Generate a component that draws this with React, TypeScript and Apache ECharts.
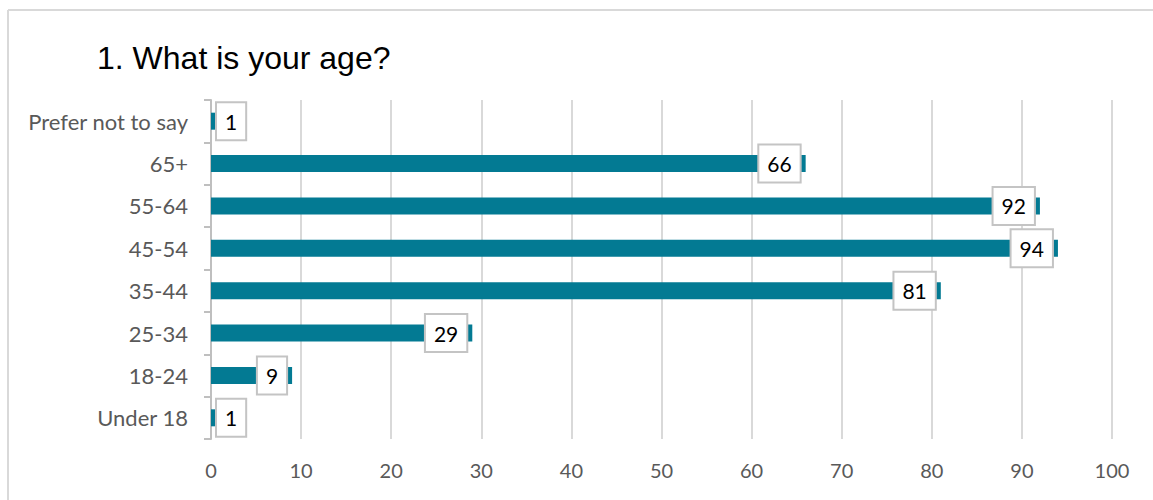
import React, { useEffect, useRef } from "react";
import * as echarts from "echarts";

const categories = ["Under 18", "18-24", "25-34", "35-44", "45-54", "55-64", "65+", "Prefer not to say"];
const values = [1, 9, 29, 81, 94, 92, 66, 1];
const titleText = "1. What is your age?";
const xMin = 0;
const xMax = 100;
const xInterval = 10;

export default function App() {
  const ref = useRef<HTMLDivElement>(null);
  useEffect(() => {
    if (!ref.current) return;
    const chart = echarts.init(ref.current, null, { renderer: "svg" });
    const labelFont = "Lato, 'Open Sans', sans-serif";
    chart.setOption({
      animation: false,
      backgroundColor: "#ffffff",
      title: {
        text: titleText,
        left: 92,
        top: 37,
        textStyle: { fontFamily: "'Liberation Sans', Arial, sans-serif", fontSize: 32, fontWeight: "normal", color: "#000000" },
      },
      graphic: [
        { type: "line", shape: { x1: 8, y1: 10, x2: 1153, y2: 10 }, style: { stroke: "#d9d9d9", lineWidth: 2 } },
        { type: "line", shape: { x1: 8, y1: 10, x2: 8, y2: 500 }, style: { stroke: "#d9d9d9", lineWidth: 2 } },
      ],
      grid: { left: 211, right: 41, top: 100, bottom: 61 },
      xAxis: {
        type: "value",
        min: xMin,
        max: xMax,
        interval: xInterval,
        axisLine: { show: false },
        axisTick: { show: false },
        splitLine: { show: true, lineStyle: { color: "#d9d9d9", width: 2 } },
        axisLabel: { color: "#595959", fontFamily: labelFont, fontSize: 20, margin: 21 },
      },
      yAxis: {
        type: "category",
        data: categories,
        axisLine: { show: true, lineStyle: { color: "#bfbfbf", width: 2 } },
        axisTick: { show: true, length: 7, lineStyle: { color: "#bfbfbf", width: 2 } },
        axisLabel: { color: "#595959", fontFamily: labelFont, fontSize: 22, margin: 23 },
      },
      series: [
        {
          type: "bar",
          data: values.map((v) => ({
            value: v,
            label: v < 5 ? { position: "insideLeft", distance: 6 } : { position: "insideRight", distance: 6 },
          })),
          barWidth: 17,
          itemStyle: { color: "#037a93" },
          label: {
            show: true,
            color: "#000000",
            fontFamily: labelFont,
            fontSize: 21,
            backgroundColor: "#ffffff",
            borderColor: "#c4c4c4",
            borderWidth: 2,
            padding: [4, 8, 4, 8],
            lineHeight: 28,
          },
        },
      ],
    });
    return () => chart.dispose();
  }, []);
  return <div ref={ref} style={{ position: "absolute", left: 0, top: 0, width: 1153, height: 500 }} />;
}
